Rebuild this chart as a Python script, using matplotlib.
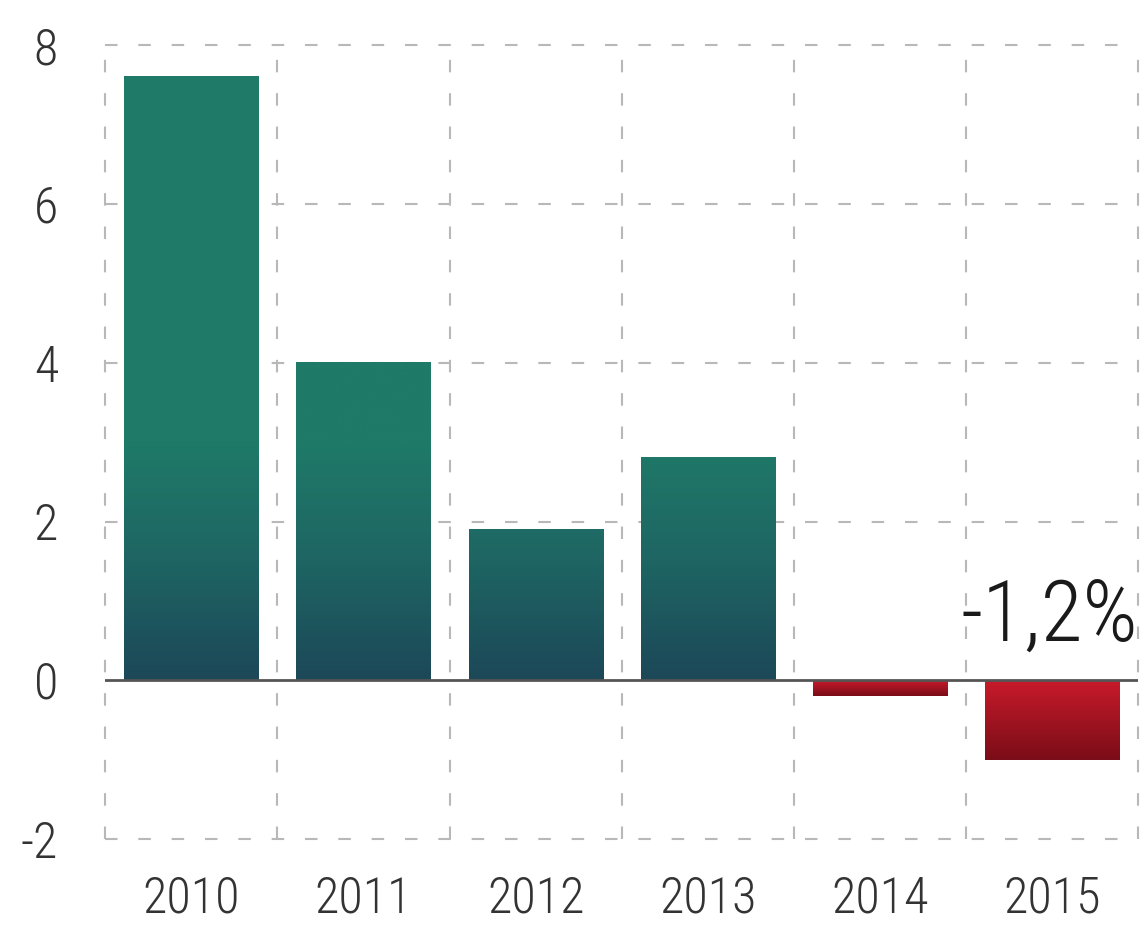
import numpy as np
import matplotlib.pyplot as plt
from matplotlib.colors import LinearSegmentedColormap

years = ["2010", "2011", "2012", "2013", "2014", "2015"]
growth = [7.6, 4.0, 1.9, 2.8, -0.2, -1.0]
y_ticks = [-2, 0, 2, 4, 6, 8]
note = "-1,2%"

plt.rcParams["font.family"] = ["Roboto Condensed", "Liberation Sans Narrow",
                               "DejaVu Sans"]
plt.rcParams["font.stretch"] = "condensed"
plt.rcParams["font.weight"] = "light"

fig = plt.figure(figsize=(11.44, 9.25), dpi=100)
ax = fig.add_axes([0.092, 0.093, 0.903, 0.858])

x = np.arange(len(years))
bars = ax.bar(x, growth, width=0.78, color="none", zorder=3)

# gradient fills, dark at zero, lighter away from it
green = LinearSegmentedColormap.from_list("g", ["#1c4858", "#1e6563", "#1f7a68"])
red = LinearSegmentedColormap.from_list("r", ["#c81a2a", "#7a0d18"])
for b, v in zip(bars, growth):
    x0, w = b.get_x(), b.get_width()
    if v >= 0:
        grad = np.clip(np.linspace(0, v, 200) / 3.0, 0, 1)[:, None]
        ax.imshow(grad, cmap=green, vmin=0, vmax=1, origin="lower",
                  extent=(x0, x0 + w, 0, v), aspect="auto", zorder=3)
    else:
        grad = np.linspace(0, 1, 200)[:, None]
        ax.imshow(grad, cmap=red, vmin=0, vmax=1, origin="upper",
                  extent=(x0, x0 + w, v, 0), aspect="auto", zorder=3)

ax.set_xlim(-0.5, len(years) - 0.5)
ax.set_ylim(-2, 8)
ax.set_xticks(x)
ax.set_xticklabels(years)
ax.set_yticks(y_ticks)
ax.set_yticklabels([str(t) for t in y_ticks])

dash = (0, (6, 10))
for xb in np.arange(-0.5, len(years)):
    ax.axvline(xb, color="#b8b8b8", lw=1.5, ls=dash, zorder=1, clip_on=False)
for t in y_ticks:
    if t != 0:
        ax.axhline(t, color="#b8b8b8", lw=1.5, ls=dash, zorder=1, clip_on=False)

ax.axhline(0, color="#555555", lw=2, zorder=4)

for s in ax.spines.values():
    s.set_visible(False)
ax.tick_params(which="both", length=0)
ax.tick_params(axis="y", pad=34, labelsize=36, labelcolor="#333333")
ax.tick_params(axis="x", pad=26, labelsize=36, labelcolor="#333333")

ax.text(5.5, 0.5, note, ha="right", va="baseline", fontsize=62, color="#1a1a1a", zorder=5)

fig.savefig("out.png", dpi=100)
